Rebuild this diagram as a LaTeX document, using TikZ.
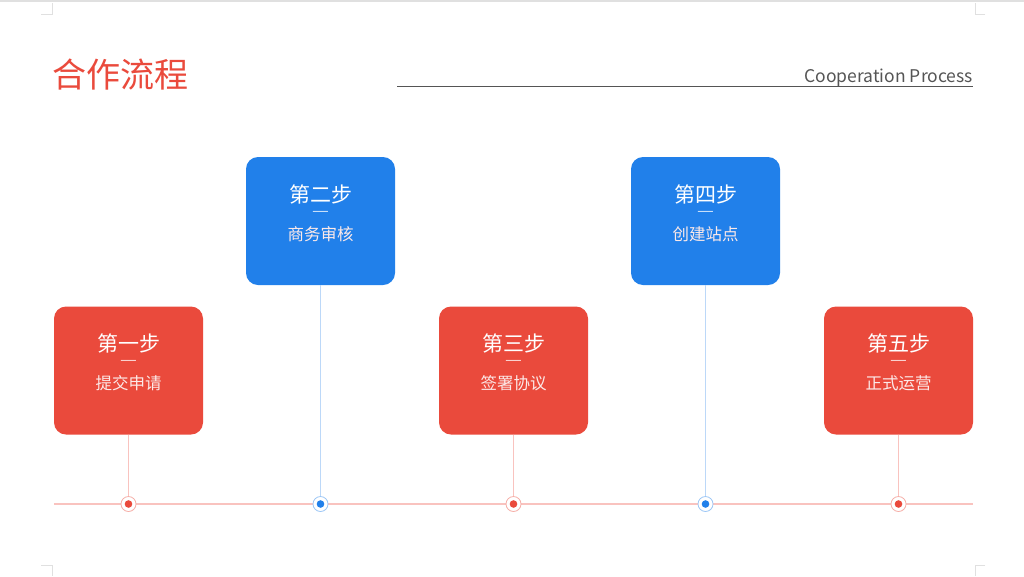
\documentclass[tikz,border=0pt]{standalone}
\usepackage{fontspec}
\setmainfont{Noto Sans CJK SC}
\usepackage{tikz}

\definecolor{stepred}{HTML}{EA4A3C}
\definecolor{stepblue}{HTML}{2180EA}
\definecolor{pinkline}{HTML}{F9C3BF}
\definecolor{paleblue}{HTML}{BCD8F8}
\definecolor{capgray}{HTML}{555555}

\newcommand{\stepdash}{\scalebox{1.45}[1]{—}}

\tikzset{
  stepbox/.style={rounded corners=12pt,minimum width=149pt,minimum height=128pt,
    inner sep=0pt,fill=#1},
  ring/.style={circle,draw=#1!45,fill=white,line width=.8pt,minimum size=15pt,inner sep=0pt},
  head/.style={text=white,font=\fontsize{21}{21}\selectfont},
  dashmark/.style={text=white,inner sep=0pt,font=\fontsize{13}{13}\selectfont},
  sub/.style={text=white!88!stepred,font=\fontsize{16.5}{16.5}\selectfont},
  cropmark/.style={draw=black!12,line width=.8pt}
}

\begin{document}
\begin{tikzpicture}[x=1pt,y=-1pt]
  \useasboundingbox[fill=white] (0,0) rectangle (1024,576);
  \fill[black!12] (0,0) rectangle (1024,2);

  % crop marks
  \draw[cropmark] (41,14) -- (52,14) -- (52,3);
  \draw[cropmark] (985,14) -- (975,14) -- (975,3);
  \draw[cropmark] (41,565) -- (52,565) -- (52,576);
  \draw[cropmark] (985,565) -- (975,565) -- (975,576);

  % header
  \node[anchor=west,inner sep=0pt,text=stepred,font=\fontsize{34}{34}\selectfont]
    (title) at (52,75) {合作流程};
  \coordinate (rl) at (397,86);
  \coordinate (rr) at (973,86);
  \draw[capgray,line width=.8pt] (rl) -- (rr);
  \node[anchor=base east,inner sep=0pt,text=capgray,font=\fontsize{17.5}{17.5}\selectfont]
    (en) at (973,82) {Cooperation Process};

  % steps
  \node[stepbox=stepred] (s1) at (128.5,370.5) {};
  \node[stepbox=stepblue] (s2) at (320.5,221) {};
  \node[stepbox=stepred] (s3) at (513.5,370.5) {};
  \node[stepbox=stepblue] (s4) at (705.5,221) {};
  \node[stepbox=stepred] (s5) at (898.5,370.5) {};

  \node[head] (h1) at ([yshift=27pt]s1.center) {第一步};
  \node[dashmark] (d1) at ([yshift=8pt]s1.center) {\stepdash};
  \node[sub] (t1) at ([yshift=-13pt]s1.center) {提交申请};

  \node[head] (h2) at ([yshift=27pt]s2.center) {第二步};
  \node[dashmark] (d2) at ([yshift=8pt]s2.center) {\stepdash};
  \node[sub] (t2) at ([yshift=-13pt]s2.center) {商务审核};

  \node[head] (h3) at ([yshift=27pt]s3.center) {第三步};
  \node[dashmark] (d3) at ([yshift=8pt]s3.center) {\stepdash};
  \node[sub] (t3) at ([yshift=-13pt]s3.center) {签署协议};

  \node[head] (h4) at ([yshift=27pt]s4.center) {第四步};
  \node[dashmark] (d4) at ([yshift=8pt]s4.center) {\stepdash};
  \node[sub] (t4) at ([yshift=-13pt]s4.center) {创建站点};

  \node[head] (h5) at ([yshift=27pt]s5.center) {第五步};
  \node[dashmark] (d5) at ([yshift=8pt]s5.center) {\stepdash};
  \node[sub] (t5) at ([yshift=-13pt]s5.center) {正式运营};

  % timeline
  \coordinate (tl) at (54,504);
  \coordinate (tr) at (973,504);
  \draw[pinkline,line width=1.8pt] (tl) -- (tr);

  \node[ring=stepred] (m1) at (128.5,504) {};
  \node[ring=stepblue] (m2) at (320.5,504) {};
  \node[ring=stepred] (m3) at (513.5,504) {};
  \node[ring=stepblue] (m4) at (705.5,504) {};
  \node[ring=stepred] (m5) at (898.5,504) {};

  \fill[stepred] (m1) circle (3.8);
  \fill[stepblue] (m2) circle (3.8);
  \fill[stepred] (m3) circle (3.8);
  \fill[stepblue] (m4) circle (3.8);
  \fill[stepred] (m5) circle (3.8);

  \draw[pinkline,line width=.8pt] (s1) -- (m1);
  \draw[paleblue,line width=.8pt] (s2) -- (m2);
  \draw[pinkline,line width=.8pt] (s3) -- (m3);
  \draw[paleblue,line width=.8pt] (s4) -- (m4);
  \draw[pinkline,line width=.8pt] (s5) -- (m5);
\end{tikzpicture}
\end{document}
